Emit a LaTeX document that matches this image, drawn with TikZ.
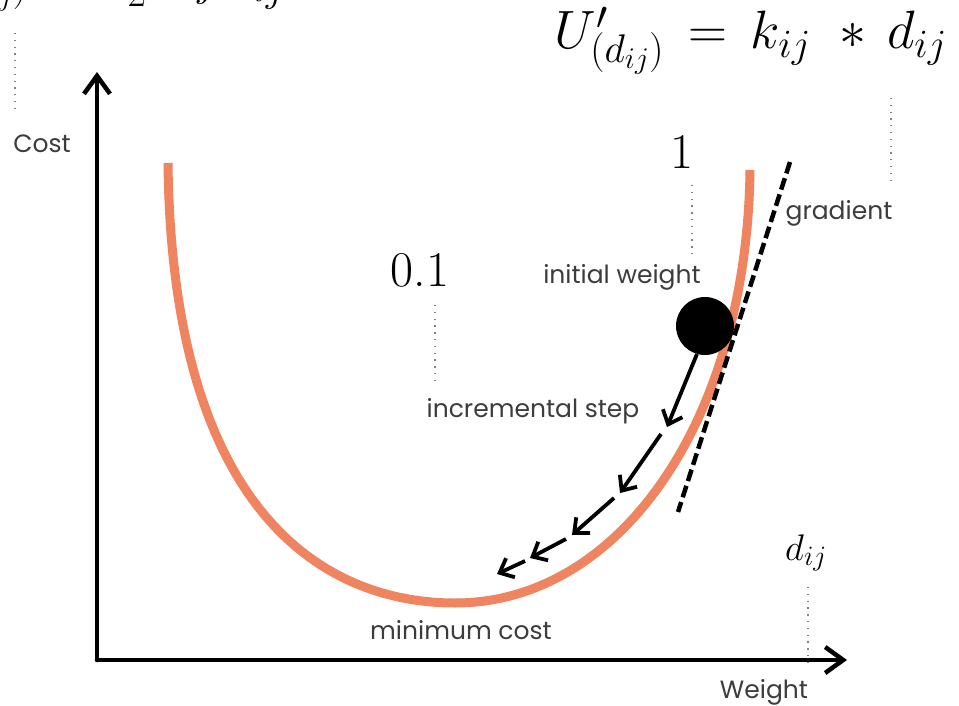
\RequirePackage{fix-cm}
\documentclass[tikz,border=0pt]{standalone}
\usepackage{fontspec}
\newfontfamily\gothic{Poppins}
\usetikzlibrary{arrows.meta}
\DeclareMathSizes{54}{54}{40}{30}
\DeclareMathSizes{37}{37}{28}{21}
\definecolor{curvecol}{RGB}{238,132,96}
\definecolor{txt}{RGB}{60,60,60}
\begin{document}
\begin{tikzpicture}[x=1pt,y=-1pt,
  lab/.style={font=\gothic\fontsize{25}{28}\selectfont, text=txt, inner sep=0pt},
  big/.style={font=\fontsize{50}{56}\selectfont, inner sep=0pt},
  eqstyle/.style={font=\fontsize{54}{60}\selectfont, inner sep=0pt},
  dotline/.style={gray, line width=1.3pt, dash pattern=on 1.3pt off 5.5pt},
  axisline/.style={line width=4.5pt, line cap=round, -{Straight Barb[length=18pt,width=26pt]}},
  stepar/.style={line width=3.8pt, -{Straight Barb[length=12pt,width=21pt]}},
  tangent/.style={line width=4.5pt, dash pattern=on 12pt off 5pt}]
\useasboundingbox (0,0) rectangle (959,706);
\fill[white] (0,0) rectangle (959,706);

% cut-off formula at top left
\begin{scope}
\clip (0,0) rectangle (959,706);
\node[eqstyle, anchor=base west] (eqa) at (-82,-12) {$U_{(d_{ij})} =\hspace{30pt}\frac{1}{2}\,k_{ij}\,d_{ij}^2$};
\end{scope}

% derivative formula
\node[eqstyle, anchor=base east] (eqb) at (947,49) {$U'_{(d_{ij})} \,=\, k_{ij}\ \ast\, d_{ij}$};

% axes
\coordinate (O) at (97,660);
\coordinate (ytip) at (97,72);
\coordinate (xtip) at (847,660);
\draw[axisline] (O) -- (ytip);
\draw[axisline] (O) -- (xtip);

% cost curve
\coordinate (cl) at (168,163);
\coordinate (cm) at (455,603);
\coordinate (cr) at (750,170);
\draw[curvecol, line width=9pt] (cl) .. controls (172,520) and (330,603) .. (cm)
  .. controls (620,603) and (747,420) .. (cr);

% tangent
\coordinate (tgtop) at (790,162);
\coordinate (tgbot) at (678,512);
\draw[tangent] (tgtop) -- (tgbot);

% ball
\node[circle, fill=black, minimum size=58pt, inner sep=0pt] (ball) at (705,326) {};

% steps
\coordinate (a1) at (667,427);
\coordinate (s2) at (661,434);
\coordinate (a2) at (620,493);
\coordinate (s3) at (614,498);
\coordinate (a3) at (572,535);
\coordinate (s4) at (566,539);
\coordinate (a4) at (530,558);
\coordinate (s5) at (525,561);
\coordinate (a5) at (497,574);
\draw[stepar] (ball.-106) -- (a1);
\draw[stepar] (s2) -- (a2);
\draw[stepar] (s3) -- (a3);
\draw[stepar] (s4) -- (a4);
\draw[stepar] (s5) -- (a5);

% labels
\node[lab] (cost) at (42,144) {Cost};
\node[lab] (grad) at (839,213) {gradient};
\node[lab] (init) at (622,277) {initial weight};
\node[lab] (incr) at (533,411) {incremental step};
\node[lab] (minc) at (461,630) {minimum cost};
\node[lab] (wgt) at (764,692) {Weight};
\node[big] (one) at (682,152) {1};
\node[big] (ptone) at (420,270) {0.1};
\node[font=\fontsize{37}{40}\selectfont, inner sep=0pt] (dij) at (806,553) {$d_{ij}$};

% dotted leaders
\coordinate (d1a) at (15,33);  \coordinate (d1b) at (15,113);
\coordinate (d2a) at (891,98); \coordinate (d2b) at (891,180);
\coordinate (d3a) at (692,185); \coordinate (d3b) at (692,257);
\coordinate (d4a) at (435,305); \coordinate (d4b) at (435,386);
\coordinate (d5a) at (808,587); \coordinate (d5b) at (808,668);
\draw[dotline] (d1a) -- (d1b);
\draw[dotline] (d2a) -- (d2b);
\draw[dotline] (d3a) -- (d3b);
\draw[dotline] (d4a) -- (d4b);
\draw[dotline] (d5a) -- (d5b);
\end{tikzpicture}
\end{document}
